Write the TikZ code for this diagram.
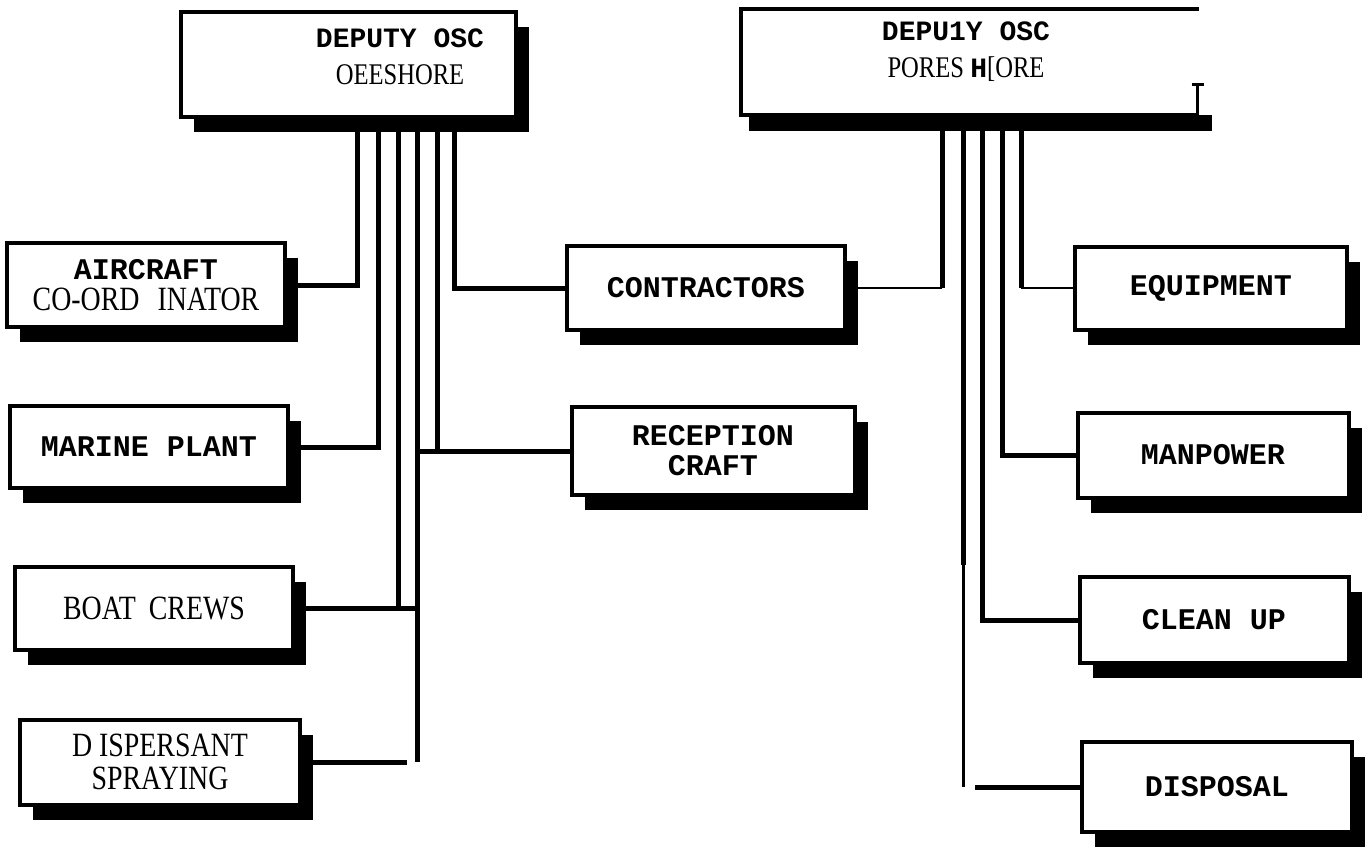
\documentclass[tikz,border=0pt]{standalone}
\usepackage{fontspec}
\usetikzlibrary{shadows}
\newfontfamily\ocrmono{Liberation Mono}
\newfontfamily\ocrserif[FakeStretch=0.82]{Liberation Serif}
\newcommand\mono[1][30]{\ocrmono\bfseries\fontsize{#1}{30}\selectfont}
\newcommand\serf[1][34]{\ocrserif\mdseries\fontsize{#1}{30}\selectfont}

\begin{document}
\begin{tikzpicture}[x=1pt,y=-1pt,
    unitbox/.style={draw, line width=4pt, fill=white, inner sep=0pt, align=center,
      font=\fontsize{30}{30}\selectfont,
      minimum width=278pt, minimum height=84pt,
      general shadow={fill=black, shadow xshift=13pt, shadow yshift=-15pt}},
    headbox/.style={unitbox, minimum height=105pt},
    headlbl/.style={align=center, font=\fontsize{28}{37}\selectfont},
    link/.style={line width=5pt},
    fine/.style={line width=1.8pt}]
  \useasboundingbox (0,0) rectangle (1369,862);

  % the two deputies
  \node[headbox, minimum width=335pt] (offshore) at (348,64) {};
  \node[headlbl] (offshorelbl) at (400,57) {\mono[28]DEPUTY OSC\\ \serf[30]OEESHORE};
  \node[draw=none, fill=white, minimum width=457pt, minimum height=105pt] (foreshore) at (970,62) {};
  \fill ([xshift=8pt]foreshore.south west) rectangle ([xshift=13pt,yshift=-16pt]foreshore.south east);
  \draw[line width=4pt] (foreshore.north east) -- (foreshore.north west) -- (foreshore.south west) -- (foreshore.south east);
  \draw[line width=2.5pt] ([xshift=-1pt]foreshore.south east) -- ++(0,-30) ++(-6,0) -- ++(12,0);
  \node[headlbl] (foreshorelbl) at (966,52) {\mono[28]DEPU1Y OSC\\ \serf[30]PORES {\mono[28]H}[ORE};

  % offshore units
  \node[unitbox] (aircraft) at (146,285) {\mono AIRCRAFT\\[1pt] \serf CO-ORD\hspace{18pt}INATOR};
  \node[unitbox, minimum height=82pt] (marine) at (149,447) {\mono MARINE PLANT};
  \node[unitbox, minimum height=83pt] (boat) at (154,608) {\serf BOAT\hspace{6pt} CREWS};
  \node[unitbox, minimum width=280pt, minimum height=85pt] (dispersant) at (160,762) {\serf D ISPERSANT\\[3pt] \serf SPRAYING};
  \node[unitbox] (contractors) at (706,288) {\mono CONTRACTORS};
  \node[unitbox, minimum width=283pt, minimum height=88pt] (reception) at (713,451) {\mono RECEPTION\\ \mono CRAFT};

  % foreshore units
  \node[unitbox, minimum width=272pt, minimum height=83pt] (equipment) at (1211,288) {\mono EQUIPMENT};
  \node[unitbox, minimum width=271pt, minimum height=85pt] (manpower) at (1213,455) {\mono MANPOWER};
  \node[unitbox, minimum width=269pt, minimum height=86pt] (cleanup) at (1214,620) {\mono CLEAN UP};
  \node[unitbox, minimum width=270pt, minimum height=90pt] (disposal) at (1217,787) {\mono DISPOSAL};

  % lines down from offshore
  \foreach \tx/\unit in {357/aircraft.east, 378/marine.east, 398/boat.east, 437/reception.west, 454/contractors.west}
    \draw[link] (\tx,0 |- offshore.south) |- (\unit);
  \draw[link] (boat.east) -- (417,0 |- boat.east);
  \draw[link] (417,0 |- offshore.south) -- (417,0 |- dispersant.east);
  \draw[link] (dispersant.east) -- (407,0 |- dispersant.east);
  \draw[link] (417,0 |- reception.west) -- (437,0 |- reception.west);

  % lines down from foreshore
  \draw[link] (942,0 |- foreshore.south) -- (942,0 |- contractors.east);
  \draw[fine] (942,0 |- contractors.east) -- (contractors.east);
  \draw[link] (1021,0 |- foreshore.south) -- (1021,0 |- equipment.west);
  \draw[fine] (1021,0 |- equipment.west) -- (equipment.west);
  \draw[link] (1002,0 |- foreshore.south) |- (manpower.west);
  \draw[link] (982,0 |- foreshore.south) |- (cleanup.west);
  \draw[link] (963,0 |- foreshore.south) -- (963,565);
  \draw[line width=3pt] (963,565) -- (963,0 |- disposal.west);
  \draw[link] (975,0 |- disposal.west) -- (disposal.west);
\end{tikzpicture}
\end{document}
